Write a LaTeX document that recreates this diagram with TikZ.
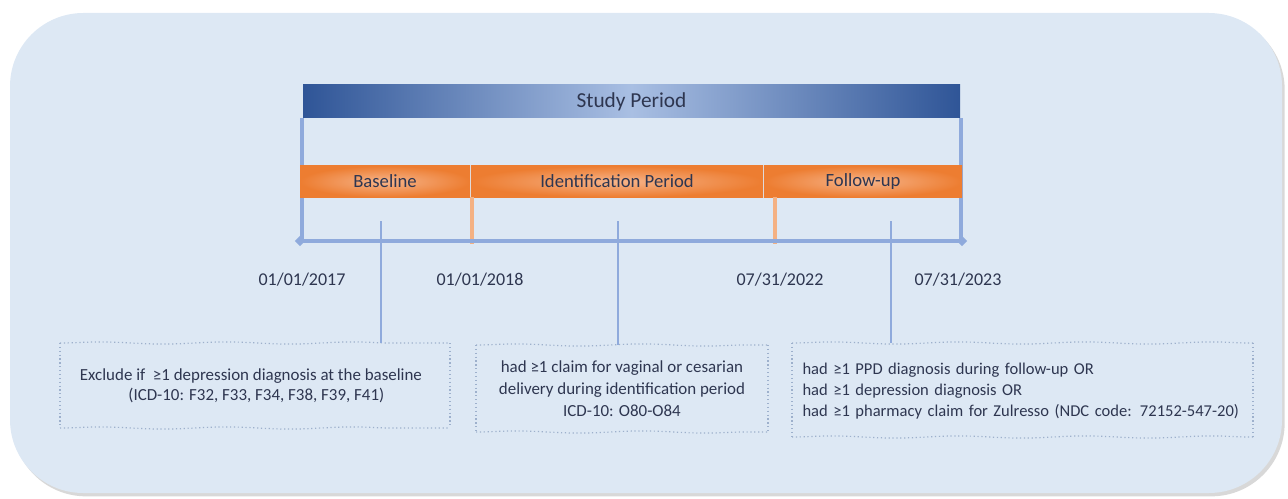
\documentclass[tikz,border=0pt]{standalone}
\usepackage{fontspec}
\setmainfont{Carlito}
\usetikzlibrary{shadows,decorations.pathmorphing,shapes.geometric}
\definecolor{bg}{HTML}{DDE8F4}
\definecolor{dblue}{HTML}{2F5597}
\definecolor{lblue}{HTML}{A9BFE3}
\definecolor{lineblue}{HTML}{8FAADC}
\definecolor{orng}{HTML}{ED7D31}
\definecolor{lorng}{HTML}{F6B48A}
\definecolor{tickorng}{HTML}{F4B183}
\definecolor{txt}{HTML}{2E3650}
\definecolor{dotc}{HTML}{9DB0CC}
\tikzset{
  studybar/.style={minimum width=492.75pt, minimum height=24.75pt, inner sep=0pt,
    left color=dblue, right color=dblue, middle color=lblue, text=txt,
    font=\fontsize{16}{18}\selectfont},
  phase/.style={minimum height=23.25pt, inner sep=0pt, inner color=lorng, outer color=orng,
    text=txt, font=\fontsize{14}{16}\selectfont},
  bline/.style={draw=lineblue, line width=3pt},
  otick/.style={draw=tickorng, line width=2.6pt},
  conn/.style={draw=lineblue, line width=0.8pt},
  datelab/.style={text=txt, font=\fontsize{13.5}{15}\selectfont, inner sep=0pt},
  endmark/.style={diamond, fill=lineblue, minimum size=8pt, inner sep=0pt},
  critbox/.style={text=txt, inner sep=0pt},
  wavy/.style={draw=dotc, dotted, line width=0.9pt, decorate,
    decoration={snake, amplitude=0.8pt, segment length=95pt}},
  side/.style={draw=dotc, dotted, line width=0.9pt},
}
\begin{document}
\begin{tikzpicture}[x=0.75pt,y=-0.75pt]
\useasboundingbox (0,0) rectangle (1288,499);
\fill[bg, rounded corners=55pt, drop shadow={shadow xshift=2pt, shadow yshift=-2.5pt, fill=black!30, opacity=0.5}] (10,13) rectangle (1282,493);

% axis coordinates
\coordinate (axL) at (300,241);
\coordinate (axR) at (962,241);

% study period bar
\node[studybar] (study) at (631.5,101.5) {Study Period};

% vertical blue lines
\draw[bline] ([xshift=-0.4pt]study.south west) -- ([xshift=-0.4pt]study.south west |- axL);
\draw[bline] ([xshift=0.4pt]study.south east) -- ([xshift=0.4pt]study.south east |- axR);

% phase bars
\node[phase, minimum width=127.5pt] (base) at (385,181.5) {Baseline};
\node[phase, minimum width=219pt] (ident) at (617,181.5) {Identification Period};
\node[phase, minimum width=148.5pt] (follow) at (863,181.5) {Follow-up};

% orange ticks
\coordinate (t1) at (472,244);
\coordinate (t2) at (775,244);
\draw[otick] (t1 |- ident.south) -- (t1);
\draw[otick] (t2 |- follow.south) -- (t2);

% axis
\draw[bline] (axL) -- (axR);
\node[endmark] (dL) at (axL) {};
\node[endmark] (dR) at (axR) {};

% dates
\node[datelab] (d1) at (302,280) {01/01/2017};
\node[datelab] (d2) at (480,280) {01/01/2018};
\node[datelab] (d3) at (780,280) {07/31/2022};
\node[datelab] (d4) at (958,280) {07/31/2023};

% criteria boxes
\node[critbox, minimum width=292.5pt, minimum height=63.75pt, align=center,
  font=\fontsize{12.7}{15}\selectfont] (b1) at (251,385.5)
  {Exclude if\ \ ≥1 depression diagnosis at the baseline\\\hspace*{8pt}(ICD-10: F32, F33, F34, F38, F39, F41)};
\node[critbox, minimum width=219pt, minimum height=65.25pt, align=center,
  font=\fontsize{12.7}{16.5}\selectfont] (b2) at (622,388.5)
  {had ≥1 claim for vaginal or cesarian\\delivery during identification period\\ICD-10: O80-O84};
\node[critbox, minimum width=345.75pt, minimum height=70.5pt, text width=336pt, align=left,
  font=\fontsize{12.4}{16}\selectfont] (b3) at (1026.5,391)
  {had ≥1 PPD diagnosis during follow-up OR\\had ≥1 depression diagnosis OR\\had ≥1 pharmacy claim for Zulresso (NDC code: 72152-547-20)};

% box borders
\coordinate (b1nw) at (60,343); \coordinate (b1se) at (450,428);
\draw[wavy] (b1nw) -- (b1se |- b1nw);
\draw[wavy] (b1nw |- b1se) -- (b1se);
\draw[side] (b1nw) -- (b1nw |- b1se);
\draw[side] (b1se |- b1nw) -- (b1se);
\coordinate (b2nw) at (476,345); \coordinate (b2se) at (768,432);
\draw[wavy] (b2nw) -- (b2se |- b2nw);
\draw[wavy] (b2nw |- b2se) -- (b2se);
\draw[side] (b2nw) -- (b2nw |- b2se);
\draw[side] (b2se |- b2nw) -- (b2se);
\coordinate (b3nw) at (792,343); \coordinate (b3se) at (1253,437);
\draw[wavy] (b3nw) -- (b3se |- b3nw);
\draw[wavy] (b3nw |- b3se) -- (b3se);
\draw[side] (b3nw) -- (b3nw |- b3se);
\draw[side] (b3se |- b3nw) -- (b3se);

% connectors
\coordinate (c1) at (381,221);
\coordinate (c2) at (618,221);
\coordinate (c3) at (891,221);
\draw[conn] (c1) -- (c1 |- b1nw);
\draw[conn] (c2) -- (c2 |- b2nw);
\draw[conn] (c3) -- (c3 |- b3nw);
\end{tikzpicture}
\end{document}
